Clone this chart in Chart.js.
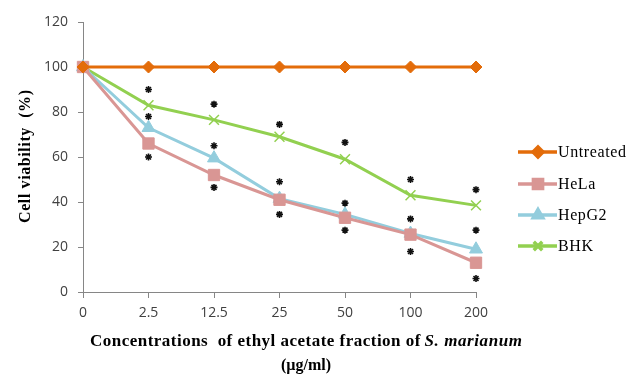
<!DOCTYPE html>
<html>
<head>
<meta charset="utf-8">
<script src="https://cdn.jsdelivr.net/npm/chart.js@4"></script>
<style>
  body { margin: 0; background: #fff; }
  #wrap { width: 634px; height: 375px; position: relative; }
</style>
</head>
<body>
<div id="wrap"><canvas id="mychart" width="634" height="375"></canvas></div>
<script>
// categories (µg/ml)
const concentrations = ["0", "2.5", "12.5", "25", "50", "100", "200"];

// cell viability (%)
const untreated = [100, 100, 100, 100, 100, 100, 100];
const hela = [100, 66, 52, 41, 33, 25.5, 13];
const hepg2 = [100, 73, 59.5, 41.5, 34.5, 26, 19];
const bhk = [100, 83, 76.5, 69, 59, 43, 38.5];

// significance asterisks
const starsBhk = [null, 90, 83.5, 74.5, 66.5, 50, 45.5];
const starsHepg2 = [null, 78, 65, 49, 39.5, 32.5, 27.5];
const starsHela = [null, 60, 46.5, 34.5, 27.5, 18, 6];

const yTicks = [0, 20, 40, 60, 80, 100, 120];

const axisColor = "#868686";

function series(label, data, color, style, radius, legendRadius) {
  return {
    label: label,
    data: data,
    borderColor: color,
    backgroundColor: color,
    borderWidth: 3,
    pointStyle: style,
    pointRadius: radius,
    pointBorderWidth: style === "crossRot" ? 1.5 : 1,
    pointBorderColor: color,
    pointBackgroundColor: color,
    tension: 0,
    legend: true,
    legendRadius: legendRadius,
  };
}

function stars(data) {
  return {
    label: "*",
    data: data,
    showLine: false,
    pointStyle: "star",
    pointRadius: 3.5,
    pointBorderWidth: 1.6,
    pointBorderColor: "#111",
    pointBackgroundColor: "#111",
    legend: false,
  };
}

// text with spacing stretched to a given width
function fitText(ctx, text, x, y, width) {
  ctx.letterSpacing = "0px";
  const w = ctx.measureText(text).width;
  const extra = (width - w) / Math.max(text.length - 1, 1);
  ctx.letterSpacing = extra + "px";
  ctx.fillText(text, x, y);
  ctx.letterSpacing = "0px";
}

// legend with line + marker, drawn on the right
const sideLegend = {
  id: "sideLegend",
  afterDraw(chart) {
    const ctx = chart.ctx;
    const items = chart.data.datasets.filter((d) => d.legend);
    const rowY = [152, 184, 215, 246];
    ctx.save();
    items.forEach((d, i) => {
      const y = rowY[i];
      ctx.strokeStyle = d.borderColor;
      ctx.lineWidth = 3.5;
      ctx.beginPath();
      ctx.moveTo(518, y);
      ctx.lineTo(557, y);
      ctx.stroke();
      ctx.fillStyle = d.borderColor;
      ctx.strokeStyle = d.borderColor;
      Chart.helpers.drawPoint(ctx, {
        pointStyle: d.pointStyle,
        radius: d.legendRadius,
        rotation: 0,
        borderWidth: d.pointBorderWidth,
      }, 538, y);
      ctx.fillStyle = "#000";
      ctx.font = "16px 'Liberation Serif'";
      ctx.textBaseline = "middle";
      ctx.textAlign = "left";
      ctx.letterSpacing = "0.6px";
      ctx.fillText(d.label, 558, y + 1);
      ctx.letterSpacing = "0px";
    });
    ctx.restore();
  },
};

// axis titles
const axisTitles = {
  id: "axisTitles",
  afterDraw(chart) {
    const ctx = chart.ctx;
    ctx.save();
    ctx.fillStyle = "#000";
    ctx.textBaseline = "middle";
    // y title
    ctx.translate(26, 157);
    ctx.rotate(-Math.PI / 2);
    ctx.textAlign = "left";
    ctx.font = "bold 16px 'Liberation Serif'";
    fitText(ctx, "Cell viability  (%)", -66, 0, 133);
    ctx.setTransform(1, 0, 0, 1, 0, 0);
    // x title, first line with italic species name
    ctx.textAlign = "left";
    const part1 = "Concentrations  of ethyl acetate fraction of ";
    const part2 = "S. marianum";
    ctx.font = "bold 17px 'Liberation Serif'";
    const w1 = ctx.measureText(part1).width;
    ctx.font = "bold italic 17px 'Liberation Serif'";
    const w2 = ctx.measureText(part2).width;
    const total = 432;
    const scaleW = total / (w1 + w2);
    const x0 = 306 - total / 2;
    ctx.font = "bold 17px 'Liberation Serif'";
    fitText(ctx, part1.trimEnd(), x0, 342, w1 * scaleW - 4);
    ctx.font = "bold italic 17px 'Liberation Serif'";
    fitText(ctx, part2, x0 + w1 * scaleW, 342, w2 * scaleW);
    ctx.font = "bold 16px 'Liberation Serif'";
    ctx.textAlign = "center";
    ctx.fillText("(µg/ml)", 306, 366);
    ctx.restore();
  },
};

const ctx = document.getElementById("mychart").getContext("2d");
const mychart = new Chart(ctx, {
  type: "line",
  data: {
    labels: concentrations,
    datasets: [
      series("Untreated", untreated, "#E36C0A", "rectRot", 6, 5),
      series("HeLa", hela, "#D99694", "rect", 8, 6.5),
      series("HepG2", hepg2, "#93CDDD", "triangle", 7.5, 5.5),
      series("BHK", bhk, "#92D050", "crossRot", 7, 6),
      stars(starsBhk),
      stars(starsHepg2),
      stars(starsHela),
    ],
  },
  options: {
    responsive: false,
    animation: false,
    layout: { padding: { left: 0, top: 22, right: 158, bottom: 0 } },
    plugins: {
      legend: { display: false },
      tooltip: { enabled: false },
    },
    scales: {
      x: {
        offset: false,
        grid: {
          drawOnChartArea: false,
          drawTicks: true,
          tickLength: 6,
          color: axisColor,
        },
        border: { color: axisColor, width: 1 },
        ticks: {
          color: "#404040",
          font: { family: "'Open Sans'", size: 14 },
          padding: 7,
          maxRotation: 0,
        },
        afterFit(scale) { scale.height = 375 - 292; },
      },
      y: {
        min: 0,
        max: 120,
        afterBuildTicks(scale) { scale.ticks = yTicks.map((v) => ({ value: v })); },
        grid: {
          drawOnChartArea: false,
          drawTicks: true,
          tickLength: 5,
          color: axisColor,
        },
        border: { color: axisColor, width: 1 },
        ticks: {
          color: "#404040",
          font: { family: "'Open Sans'", size: 14 },
          padding: 10,
        },
        afterFit(scale) { scale.width = 83; },
      },
    },
  },
  plugins: [sideLegend, axisTitles],
});
</script>
</body>
</html>
